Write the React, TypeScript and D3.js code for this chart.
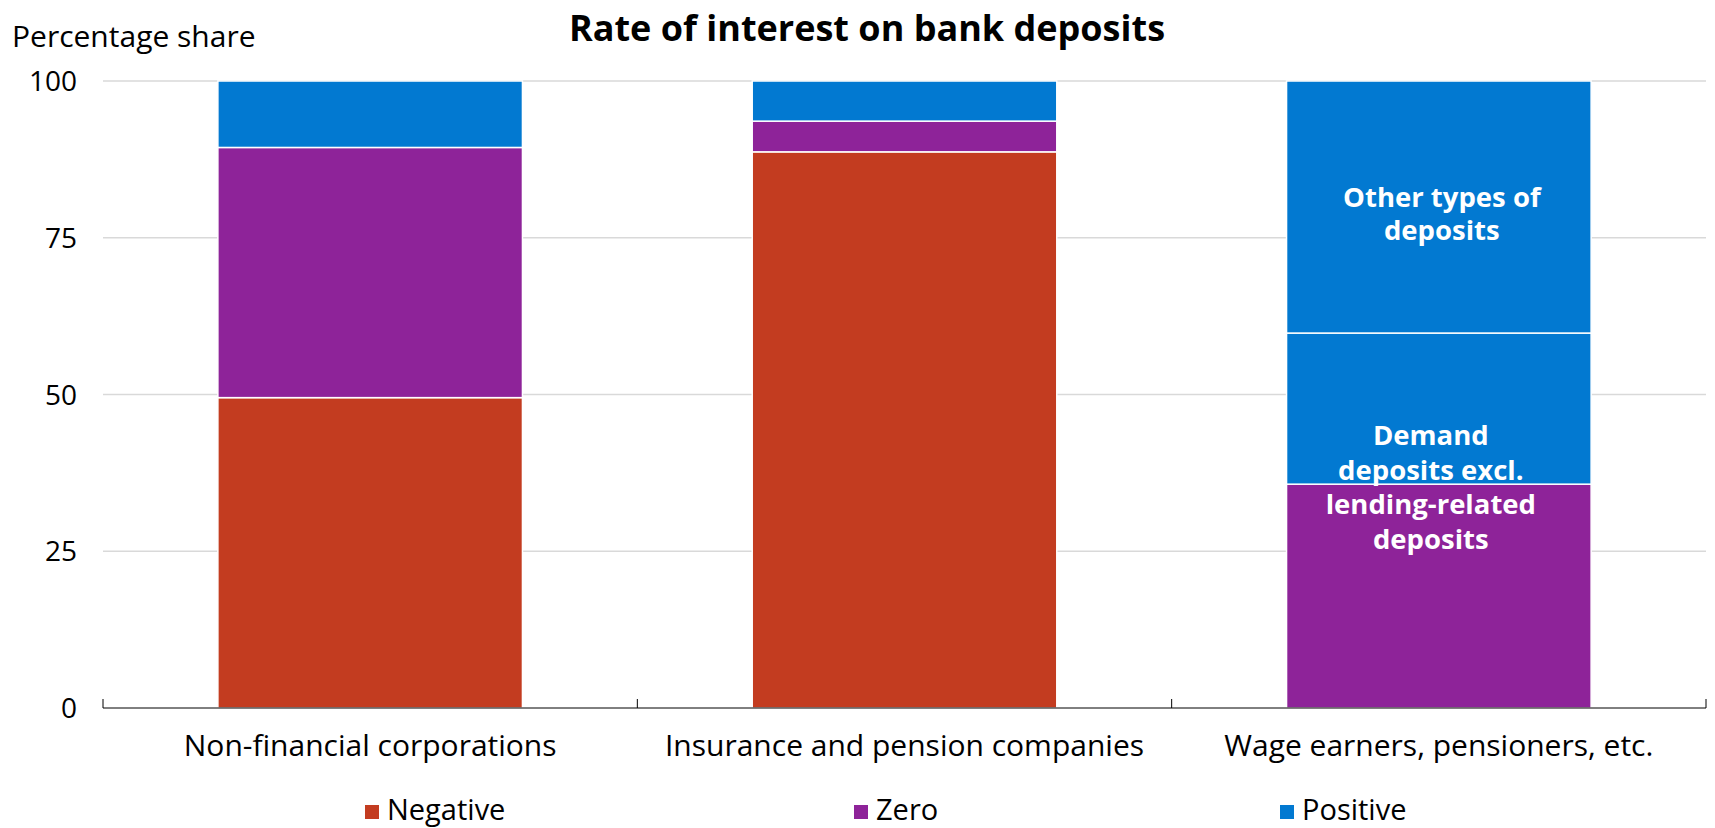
import React from "react";
import * as d3 from "d3";

const categories = ["Non-financial corporations", "Insurance and pension companies", "Wage earners, pensioners, etc."];
const negative = [49.5, 88.7, 0];
const zero = [39.9, 4.9, 35.7];
const positiveDemand = [10.6, 6.4, 24.1];
const positiveOther = [0, 0, 40.2];
const yTicks = [0, 25, 50, 75, 100];
const legendLabels = ["Negative", "Zero", "Positive"];
const annotationOther = ["Other types of", "deposits"];
const annotationDemand = ["Demand", "deposits excl.", "lending-related", "deposits"];

const W = 1715;
const H = 828;
const M = { left: 103, right: 9, top: 81, bottom: 120 };
const colors = ["#C33C20", "#8E2399", "#0279D1", "#0279D1"];
const FONT = "'Open Sans', sans-serif";

export default function App() {
  const x = d3.scaleBand<string>().domain(categories).range([M.left, W - M.right]).paddingInner(0.43).paddingOuter(0.215);
  const y = d3.scaleLinear().domain([0, 100]).range([H - M.bottom, M.top]);
  const rows = categories.map((c, i) => ({
    cat: c,
    s0: negative[i],
    s1: zero[i],
    s2: positiveDemand[i],
    s3: positiveOther[i],
  }));
  const stack = d3.stack<any>().keys(["s0", "s1", "s2", "s3"]);
  const series = stack(rows);
  const step = x.step();
  const legendX = [365, 854, 1280];
  const cx3 = (x(categories[2]) as number) + x.bandwidth() / 2;
  return (
    <svg width={W} height={H} style={{ position: "absolute", left: 0, top: 0, background: "#fff" }} fontFamily={FONT}>
      <rect width={W} height={H} fill="#fff" />
      <text x={867} y={41} textAnchor="middle" fontSize={36} fontWeight={700} fill="#000">
        Rate of interest on bank deposits
      </text>
      <text x={12} y={47} fontSize={30} fill="#000">Percentage share</text>
      {yTicks.map((t) => (
        <g key={t}>
          {t > 0 && <line x1={M.left} x2={W - M.right} y1={y(t)} y2={y(t)} stroke="#D9D9D9" strokeWidth={1.5} />}
          <text x={77} y={y(t)} dy="0.36em" textAnchor="end" fontSize={28} fill="#000">{t}</text>
        </g>
      ))}
      {series.map((s, si) => (
        <g key={si}>
          {s.map((d, di) =>
            d[1] - d[0] > 0 ? (
              <rect
                key={di}
                x={x(categories[di])}
                width={x.bandwidth()}
                y={y(d[1])}
                height={y(d[0]) - y(d[1])}
                fill={colors[si]}
                stroke="#fff"
                strokeWidth={1.5}
              />
            ) : null
          )}
        </g>
      ))}
      <line x1={M.left} x2={W - M.right} y1={y(0)} y2={y(0)} stroke="#000" strokeWidth={1} />
      {[0, 1, 2, 3].map((i) => (
        <line key={i} x1={M.left + i * step} x2={M.left + i * step} y1={y(0)} y2={y(0) - 9} stroke="#000" strokeWidth={1} />
      ))}
      {categories.map((c) => (
        <text key={c} x={(x(c) as number) + x.bandwidth() / 2} y={756} textAnchor="middle" fontSize={30} fill="#000">{c}</text>
      ))}
      {annotationOther.map((l, i) => (
        <text key={l + i} x={cx3 + 3} y={207 + i * 33} textAnchor="middle" fontSize={27.5} fontWeight={700} fill="#fff">{l}</text>
      ))}
      {annotationDemand.map((l, i) => (
        <text key={l + i} x={cx3 - 8} y={445 + i * 34.5} textAnchor="middle" fontSize={27.5} fontWeight={700} fill="#fff">{l}</text>
      ))}
      {legendLabels.map((l, i) => (
        <g key={l}>
          <rect x={legendX[i]} y={805} width={14} height={14} fill={colors[i]} />
          <text x={legendX[i] + 22} y={820} fontSize={29} fill="#000">{l}</text>
        </g>
      ))}
    </svg>
  );
}
